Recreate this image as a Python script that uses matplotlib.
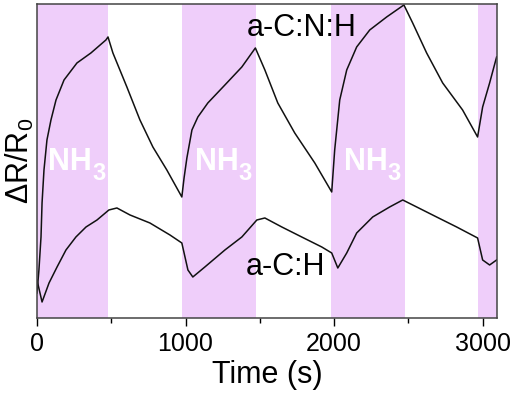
import matplotlib
matplotlib.use('Agg')
import matplotlib.pyplot as plt
from matplotlib.ticker import MultipleLocator

plt.rcParams['font.family'] = ['Liberation Sans', 'DejaVu Sans']
plt.rcParams['mathtext.fontset'] = 'custom'
plt.rcParams['mathtext.rm'] = 'Liberation Sans'

# NH3 exposure windows (s)
nh3_on = [0, 975, 1982, 2968]
nh3_off = [480, 1475, 2478, 3095]

# a-C:N:H response (arbitrary units)
t_cnh = [0, 13, 27, 34, 47, 67, 94, 128, 182, 269, 363, 464, 478,
         511, 605, 693, 780, 874, 975,
         990, 1009, 1043, 1083, 1150, 1265, 1379, 1470,
         1534, 1621, 1735, 1870, 1984,
         2004, 2038, 2085, 2152, 2240, 2354, 2470,
         2529, 2623, 2731, 2865, 2966,
         3000, 3047, 3094]
r_cnh = [25, 48, 81, 115, 148, 178, 198, 218, 238, 255, 265, 278, 281,
         265, 231, 198, 171, 148, 121,
         140, 160, 188, 201, 215, 233, 251, 270,
         248, 215, 185, 155, 126,
         168, 218, 248, 271, 288, 301, 313,
         295, 265, 235, 208, 181,
         211, 235, 261]

# a-C:H response
t_ch = [0, 34, 81, 135, 195, 262, 330, 404, 484, 538, 626, 760, 895, 975,
        1016, 1049, 1130, 1265, 1379, 1480, 1534, 1648, 1782, 1917, 1984,
        2025, 2085, 2152, 2260, 2374, 2462, 2556, 2690, 2825, 2966,
        3000, 3047, 3094]
r_ch = [38, 16, 35, 51, 68, 81, 91, 98, 108, 110, 103, 95, 83, 75,
        48, 41, 51, 68, 81, 98, 100, 91, 81, 71, 65,
        50, 65, 85, 101, 111, 118, 111, 101, 91, 80,
        58, 53, 58]

fig = plt.figure(figsize=(5.16, 3.96), dpi=100)
ax = fig.add_axes([0.0717, 0.197, 0.891, 0.793])

for a, b in zip(nh3_on, nh3_off):
    ax.axvspan(a, b, color='#efcefa', lw=0)
    if b - a > 300:
        mid = (a + b) / 2
        # "NH" plus a big, low subscript "3" like the original
        ax.annotate('NH', xy=(mid, 148), xytext=(14, 0), textcoords='offset points',
                    color='white', fontsize=22, fontweight='bold',
                    ha='right', va='baseline')
        ax.annotate('3', xy=(mid, 148), xytext=(14, -7.5), textcoords='offset points',
                    color='white', fontsize=17, fontweight='bold',
                    ha='left', va='baseline')

ax.plot(t_cnh, r_cnh, color='#111111', lw=1.1)
ax.plot(t_ch, r_ch, color='#111111', lw=1.1)

ax.text(1780, 290, 'a-C:N:H', fontsize=22, ha='center', va='center')
ax.text(1670, 51, 'a-C:H', fontsize=22, ha='center', va='center')

ax.set_xlim(0, 3095)
ax.set_ylim(0, 314)
ax.set_yticks([])
ax.xaxis.set_major_locator(MultipleLocator(1000))
ax.xaxis.set_minor_locator(MultipleLocator(500))
ax.tick_params(axis='x', which='major', direction='out', length=6, width=1,
               labelsize=18, pad=4, top=False)
ax.tick_params(axis='x', which='minor', direction='out', length=3.5, width=1, top=False)
for s in ax.spines.values():
    s.set_color('#444444')
    s.set_linewidth(1.1)

ax.set_xlabel('Time (s)', fontsize=22, labelpad=3)
ax.set_ylabel(r'ΔR/R$_0$', fontsize=22, labelpad=1)

fig.savefig('out.png', dpi=100)
